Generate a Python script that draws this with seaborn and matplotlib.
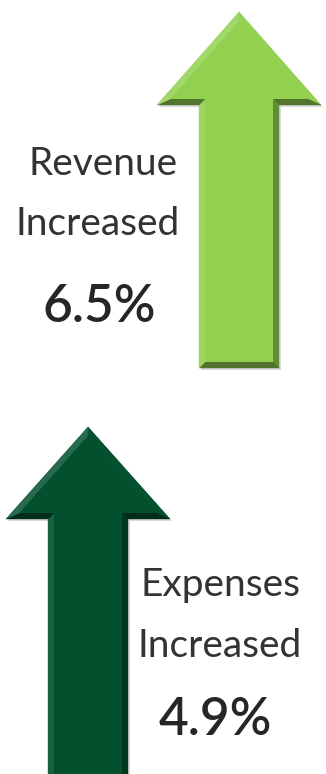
import numpy as np
import matplotlib
matplotlib.use("Agg")
import matplotlib.pyplot as plt
from matplotlib.patches import Polygon
from matplotlib.colors import to_rgb
import seaborn as sns

# ---- data ----
metrics = ["Revenue", "Expenses"]
changes = [6.5, 4.9]
subtitle = "Increased"
arrow_colors = ["#92D050", "#02502E"]

sns.set_theme(style="white")
plt.rcParams["font.family"] = ["Lato", "DejaVu Sans"]

W, H = 326, 774
fig = plt.figure(figsize=(W / 100, H / 100), dpi=100)
ax = fig.add_axes([0, 0, 1, 1])
ax.set_xlim(0, W)
ax.set_ylim(H, 0)
ax.axis("off")

# layout (pixel units): centre x, tip y, head half width, head base y, shaft half width, bottom y
layouts = [
    dict(cx=239, tip=12, hw=82, base=105, sw=40, bottom=368),
    dict(cx=88, tip=427, hw=82, base=519, sw=40, bottom=800),
]
text_layouts = [
    dict(cx=(103, 98, 99), y=(175, 235, 322)),
    dict(cx=(221, 220, 215), y=(596, 657, 735)),
]


def arrow_pts(L):
    cx, tip, hw, base, sw, bot = L["cx"], L["tip"], L["hw"], L["base"], L["sw"], L["bottom"]
    return np.array([
        (cx, tip), (cx + hw, base), (cx + sw, base), (cx + sw, bot),
        (cx - sw, bot), (cx - sw, base), (cx - hw, base)], dtype=float)


def inset(pts, d):
    n = len(pts)
    lines = []
    for i in range(n):
        p, q = pts[i], pts[(i + 1) % n]
        e = q - p
        out = np.array([e[1], -e[0]]) / np.linalg.norm(e)
        lines.append((p - out * d, e))
    res = []
    for i in range(n):
        p1, e1 = lines[i - 1]
        p2, e2 = lines[i]
        A = np.array([e1, -e2]).T
        t = np.linalg.solve(A, p2 - p1)
        res.append(p1 + t[0] * e1)
    return np.array(res)


def shade(color, s):
    c = np.array(to_rgb(color))
    if s >= 0:
        return tuple(c + (1 - c) * 0.15 * s)
    return tuple(c * (1 - 0.55 * (-s)))


light = np.array([-0.6, -0.8])
bevel = 6

for idx, (L, col) in enumerate(zip(layouts, arrow_colors)):
    pts = arrow_pts(L)
    # soft shadow
    ax.add_patch(Polygon(pts + np.array([2, 2]), closed=True, facecolor=(0, 0, 0, 0.15),
                         edgecolor="none", zorder=1))
    ax.add_patch(Polygon(pts, closed=True, facecolor=col, edgecolor="none", zorder=2))
    inner = inset(pts, bevel)
    n = len(pts)
    for i in range(n):
        p, q = pts[i], pts[(i + 1) % n]
        e = q - p
        out = np.array([e[1], -e[0]]) / np.linalg.norm(e)
        s = float(np.dot(out, light))
        quad = [pts[i], pts[(i + 1) % n], inner[(i + 1) % n], inner[i]]
        ax.add_patch(Polygon(quad, closed=True, facecolor=shade(col, s),
                             edgecolor=shade(col, s), linewidth=0.3, zorder=3))
    ax.add_patch(Polygon(inner, closed=True, facecolor=col, edgecolor="none", zorder=4))

for idx, (m, v) in enumerate(zip(metrics, changes)):
    T = text_layouts[idx]
    ax.text(T["cx"][0], T["y"][0], m, ha="center", va="baseline", fontsize=28,
            fontweight="normal", color="#333333", zorder=5)
    ax.text(T["cx"][1], T["y"][1], subtitle, ha="center", va="baseline", fontsize=28,
            fontweight="normal", color="#333333", zorder=5)
    ax.text(T["cx"][2], T["y"][2], f"{v}%", ha="center", va="baseline", fontsize=37,
            fontweight="semibold", fontstyle="normal", color="#262626", zorder=5)

fig.savefig("out.png", dpi=100)
